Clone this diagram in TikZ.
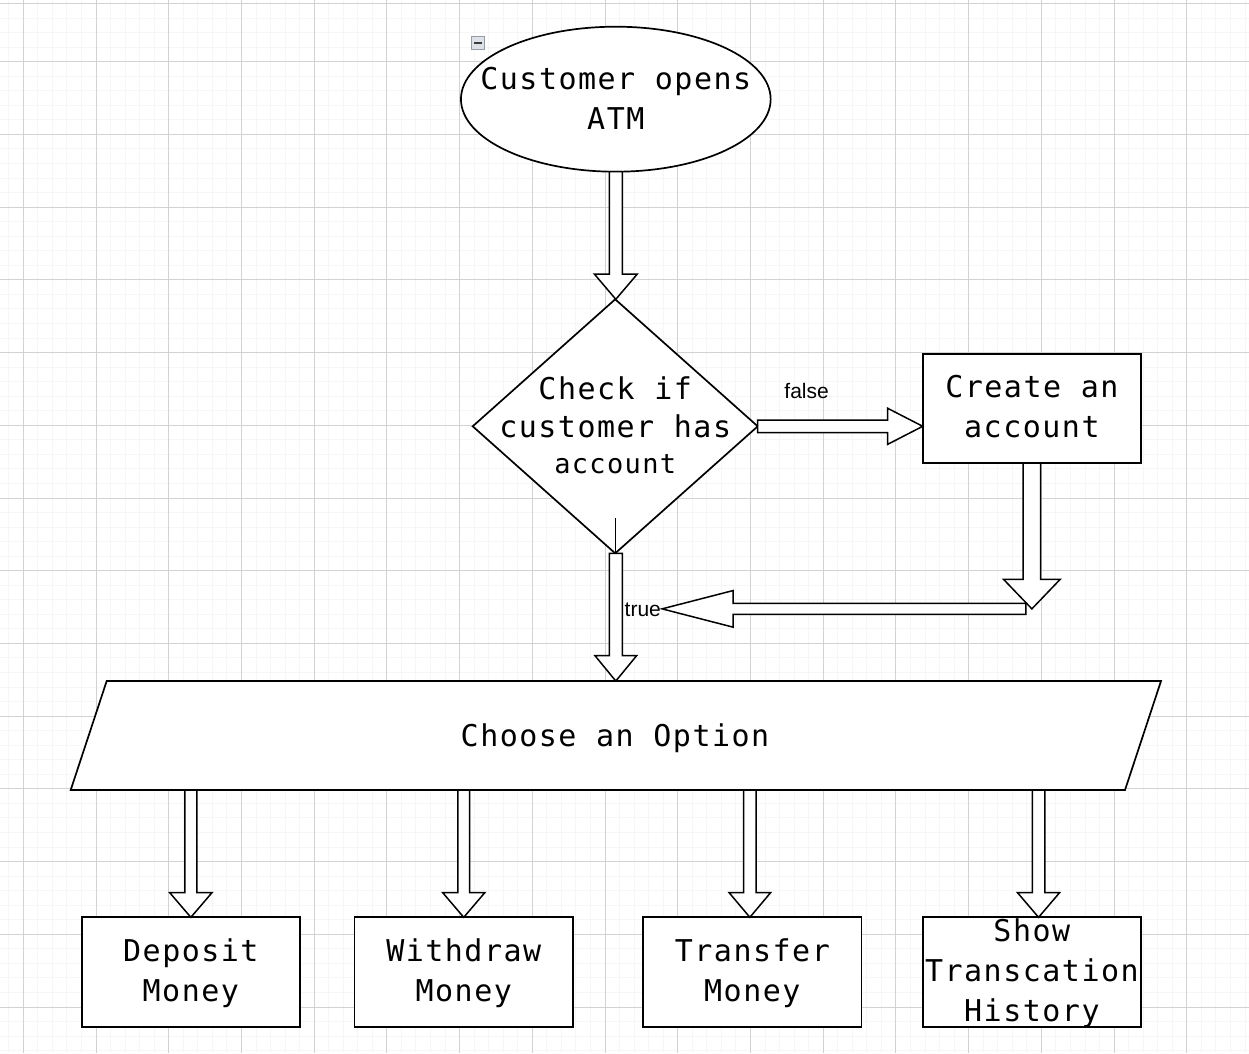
\documentclass[tikz,border=0pt]{standalone}
\usepackage{fontspec}
\newfontfamily\monofont[LetterSpace=5]{DejaVu Sans Mono}
\newfontfamily\labelsans{Liberation Sans}
\usetikzlibrary{shapes.geometric,calc}
\definecolor{gridmajor}{RGB}{210,210,210}
\definecolor{gridminor}{RGB}{246,246,246}
\definecolor{iconfill}{RGB}{222,226,232}
\definecolor{iconedge}{RGB}{150,156,166}
\definecolor{icondash}{RGB}{60,60,60}

\newcommand{\monowide}{\spaceskip=19.6pt plus 0pt minus 0pt\relax}

\tikzset{
  shapeline/.style={draw=black, line width=1.7pt, fill=white},
  blockarrow/.style={draw=black, line width=1.5pt, fill=white, line join=miter},
  boxtext/.style={font=\monofont\fontsize{30}{40}\selectfont, text width=300pt, align=center, inner sep=0pt, anchor=base},
  edgelabel/.style={font=\labelsans\fontsize{21}{25}\selectfont, inner sep=1pt},
  procbox/.style={shapeline, rectangle, minimum width=218.3pt, minimum height=109.4pt, inner sep=0pt, outer sep=0pt},
  gridthin/.style={draw=gridminor, line width=1pt},
  gridthick/.style={draw=gridmajor, line width=1pt}
}

% block arrows: #1 start, #2 tip, #3 shaft half width, #4 head half width, #5 head length
\newcommand{\downblock}[5]{%
  \draw[blockarrow] ($(#1)+(-#3,0)$) -- ($(#1)+(#3,0)$) -- ($(#2)+(#3,-#5)$) -- ($(#2)+(#4,-#5)$) -- (#2) -- ($(#2)+(-#4,-#5)$) -- ($(#2)+(-#3,-#5)$) -- cycle;}
\newcommand{\rightblock}[5]{%
  \draw[blockarrow] ($(#1)+(0,-#3)$) -- ($(#2)+(-#5,-#3)$) -- ($(#2)+(-#5,-#4)$) -- (#2) -- ($(#2)+(-#5,#4)$) -- ($(#2)+(-#5,#3)$) -- ($(#1)+(0,#3)$) -- cycle;}
\newcommand{\leftblock}[5]{%
  \draw[blockarrow] ($(#1)+(0,-#3)$) -- ($(#2)+(#5,-#3)$) -- ($(#2)+(#5,-#4)$) -- (#2) -- ($(#2)+(#5,#4)$) -- ($(#2)+(#5,#3)$) -- ($(#1)+(0,#3)$) -- cycle;}

\begin{document}
\begin{tikzpicture}[x=1pt,y=-1pt]
\useasboundingbox (0,0) rectangle (1249,1053);
\fill[white] (0,0) rectangle (1249,1053);
% grid
\foreach \i in {0,...,85} \draw[gridthin] ({8.76+14.544*\i},0) -- ++(0,1053);
\foreach \i in {0,...,72} \draw[gridthin] (0,{3.5+14.544*\i}) -- ++(1249,0);
\foreach \i in {0,...,16} \draw[gridthick] ({23.3+72.72*\i},0) -- ++(0,1053);
\foreach \i in {0,...,13} \draw[gridthick] (0,{61.7+72.72*\i}) -- ++(1249,0);
\draw[gridthick] (0,3.5) -- (1249,3.5);

% shapes
\node[shapeline, ellipse, minimum width=309.7pt, minimum height=145pt, inner sep=0pt, outer sep=0pt] (start) at (615.8,99.2) {};
\node[shapeline, diamond, minimum width=285pt, minimum height=254pt, inner sep=0pt, outer sep=0pt] (check) at (615.2,426.3) {};
\node[procbox] (create) at (1031.85,408.35) {};
\node[minimum width=1090.3pt, minimum height=109pt, inner sep=0pt, outer sep=0pt] (choose) at (615.85,735.5) {};
\draw[shapeline] ($(choose.north west)+(36,0)$) -- (choose.north east) -- ($(choose.south east)+(-36,0)$) -- (choose.south west) -- cycle;
\node[procbox] (deposit) at (190.85,972) {};
\node[procbox] (withdraw) at (463.75,972) {};
\node[procbox] (transfer) at (752.35,972) {};
\node[procbox] (show) at (1031.85,972) {};

% collapse icon
\node[draw=iconedge, fill=iconfill, line width=0.8pt, minimum size=13pt, inner sep=0pt] (collapse) at (478,43) {};
\draw[icondash, line width=2pt] ($(collapse.center)+(-4,0)$) -- ($(collapse.center)+(4,0)$);

% edge labels
\node[edgelabel, anchor=base] (falselbl) at (806.6,398.3) {false};
\node[edgelabel, anchor=base west] (truelbl) at (623.5,616) {true};

% connectors
\coordinate (a1s) at (start.south);
\coordinate (a1t) at (start.south |- check.north);
\downblock{a1s}{a1t}{6.5}{21.5}{25.3}

\coordinate (a2s) at (check.east);
\coordinate (a2t) at (check.east -| create.west);
\rightblock{a2s}{a2t}{6.3}{18}{35}

\coordinate (a3s) at (create.south);
\coordinate (join) at ($(create.south)+(0,145.8)$);
\downblock{a3s}{join}{8.7}{28.3}{29.5}

\coordinate (a4s) at ($(join)+(-6,0)$);
\coordinate (a4t) at (truelbl.east |- join);
\leftblock{a4s}{a4t}{5.6}{18.3}{71}

\coordinate (a5s) at (start.south |- check.south);
\coordinate (a5t) at (start.south |- choose.north);
\downblock{a5s}{a5t}{6.5}{20.8}{25.3}
\draw[line width=1.2pt] (a5s) -- ++(0,-35.6);

\coordinate (b1t) at (deposit.north);
\coordinate (b1s) at (b1t |- choose.south);
\downblock{b1s}{b1t}{5.9}{21.1}{24.6}
\coordinate (b2t) at (withdraw.north);
\coordinate (b2s) at (b2t |- choose.south);
\downblock{b2s}{b2t}{5.8}{21}{24.6}
\coordinate (b3t) at ($(transfer.north)+(-2.5,0)$);
\coordinate (b3s) at (b3t |- choose.south);
\downblock{b3s}{b3t}{6.2}{20.7}{24.6}
\coordinate (b4t) at ($(show.north)+(6.7,0)$);
\coordinate (b4s) at (b4t |- choose.south);
\downblock{b4s}{b4t}{6.2}{21}{24.6}

% texts
\node[boxtext] (starttxt) at (615.8,89) {\monowide Customer opens\\ATM};
\node[boxtext, font=\monofont\fontsize{30}{38}\selectfont] (checktxt) at (615.2,399.3) {\monowide Check if\\customer has\\[-2pt]{\fontsize{27}{36}\selectfont account}};
\node[boxtext] (createtxt) at (1031.85,397.3) {\monowide Create an\\account};
\node[boxtext, text width=600pt] (choosetxt) at (615,746) {\monowide Choose an Option};
\node[boxtext] (deposittxt) at (190.85,961.7) {Deposit\\Money};
\node[boxtext] (withdrawtxt) at (463.75,961.7) {Withdraw\\Money};
\node[boxtext] (transfertxt) at (752.35,961.7) {Transfer\\Money};
\node[boxtext] (showtxt) at (1031.85,941.7) {Show\\Transcation\\History};
\end{tikzpicture}
\end{document}
